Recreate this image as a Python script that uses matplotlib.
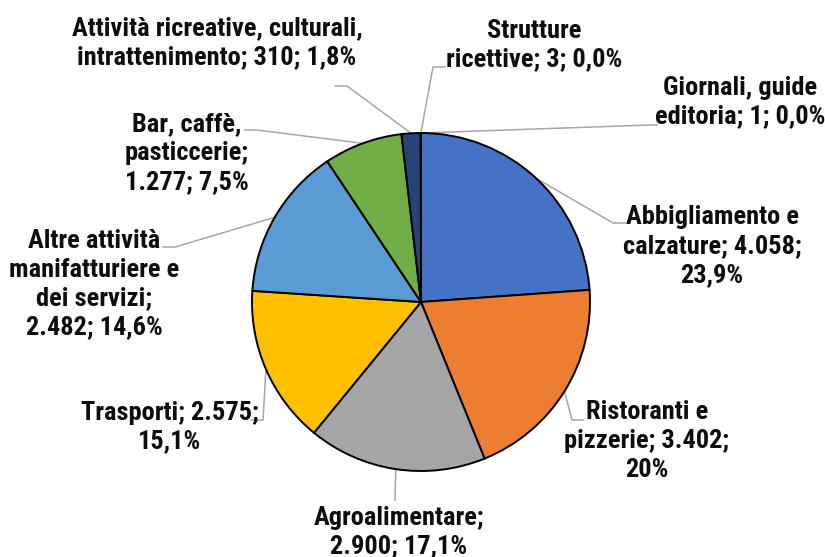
import numpy as np
import matplotlib.pyplot as plt

W, H = 825, 557

values = [4058, 3402, 2900, 2575, 2482, 1277, 310, 3, 1]
labels = [
    "Abbigliamento e\ncalzature; 4.058;\n23,9%",
    "Ristoranti e\npizzerie; 3.402;\n20%",
    "Agroalimentare;\n2.900; 17,1%",
    "Trasporti; 2.575;\n15,1%",
    "Altre attività\nmanifatturiere e\ndei servizi;\n2.482; 14,6%",
    "Bar, caffè,\npasticcerie;\n1.277; 7,5%",
    "Attività ricreative, culturali,\nintrattenimento; 310; 1,8%",
    "Strutture\nricettive; 3; 0,0%",
    "Giornali, guide\neditoria; 1; 0,0%",
]
colors = ["#4472C4", "#ED7D31", "#A5A5A5", "#FFC000", "#5B9BD5",
          "#70AD47", "#264478", "#9E480E", "#636363"]

# layout in pixel coordinates (y measured from top)
center_px = (421, 302)
radius_px = 169
text_pos = [(712, 246), (647, 441), (399, 532), (170, 427), (94, 284),
            (187, 153), (217, 43), (534, 45), (740, 102)]
elbows = [
    [(613, 223), (625, 223)],
    [(572, 420), (583, 420)],
    [(395, 500)],
    [(263, 420), (252, 420)],
    [(175, 247), (163, 247)],
    [(257, 130), (245, 130)],
    [(347, 86), (335, 86)],
    [(433, 67), (445, 67)],
    [(650, 125), (657, 125)],
]

fig = plt.figure(figsize=(W / 100, H / 100), dpi=100)
ax = fig.add_axes([0, 0, 1, 1])

cx, cy = center_px[0], H - center_px[1]
wedges, _ = ax.pie(values, colors=colors, startangle=90, counterclock=False,
                   center=(cx, cy), radius=radius_px,
                   wedgeprops=dict(edgecolor="black", linewidth=1.4))

font = dict(family=["Roboto Condensed", "Liberation Sans", "DejaVu Sans"],
            weight="bold", size=19, color="#0D0D0D")

for w, lab, tp, el in zip(wedges, labels, text_pos, elbows):
    mid = np.deg2rad((w.theta1 + w.theta2) / 2)
    ax_x = cx + radius_px * np.cos(mid)
    ax_y = cy + radius_px * np.sin(mid)
    xs = [ax_x] + [p[0] for p in el]
    ys = [ax_y] + [H - p[1] for p in el]
    ax.plot(xs, ys, color="#A6A6A6", lw=1.1, zorder=0)
    ax.text(tp[0], H - tp[1], lab, ha="center", va="center",
            linespacing=1.25, **font)

ax.set_xlim(0, W)
ax.set_ylim(0, H)
ax.set_aspect("equal")
ax.axis("off")

fig.savefig("out.png", dpi=100)
plt.close(fig)
